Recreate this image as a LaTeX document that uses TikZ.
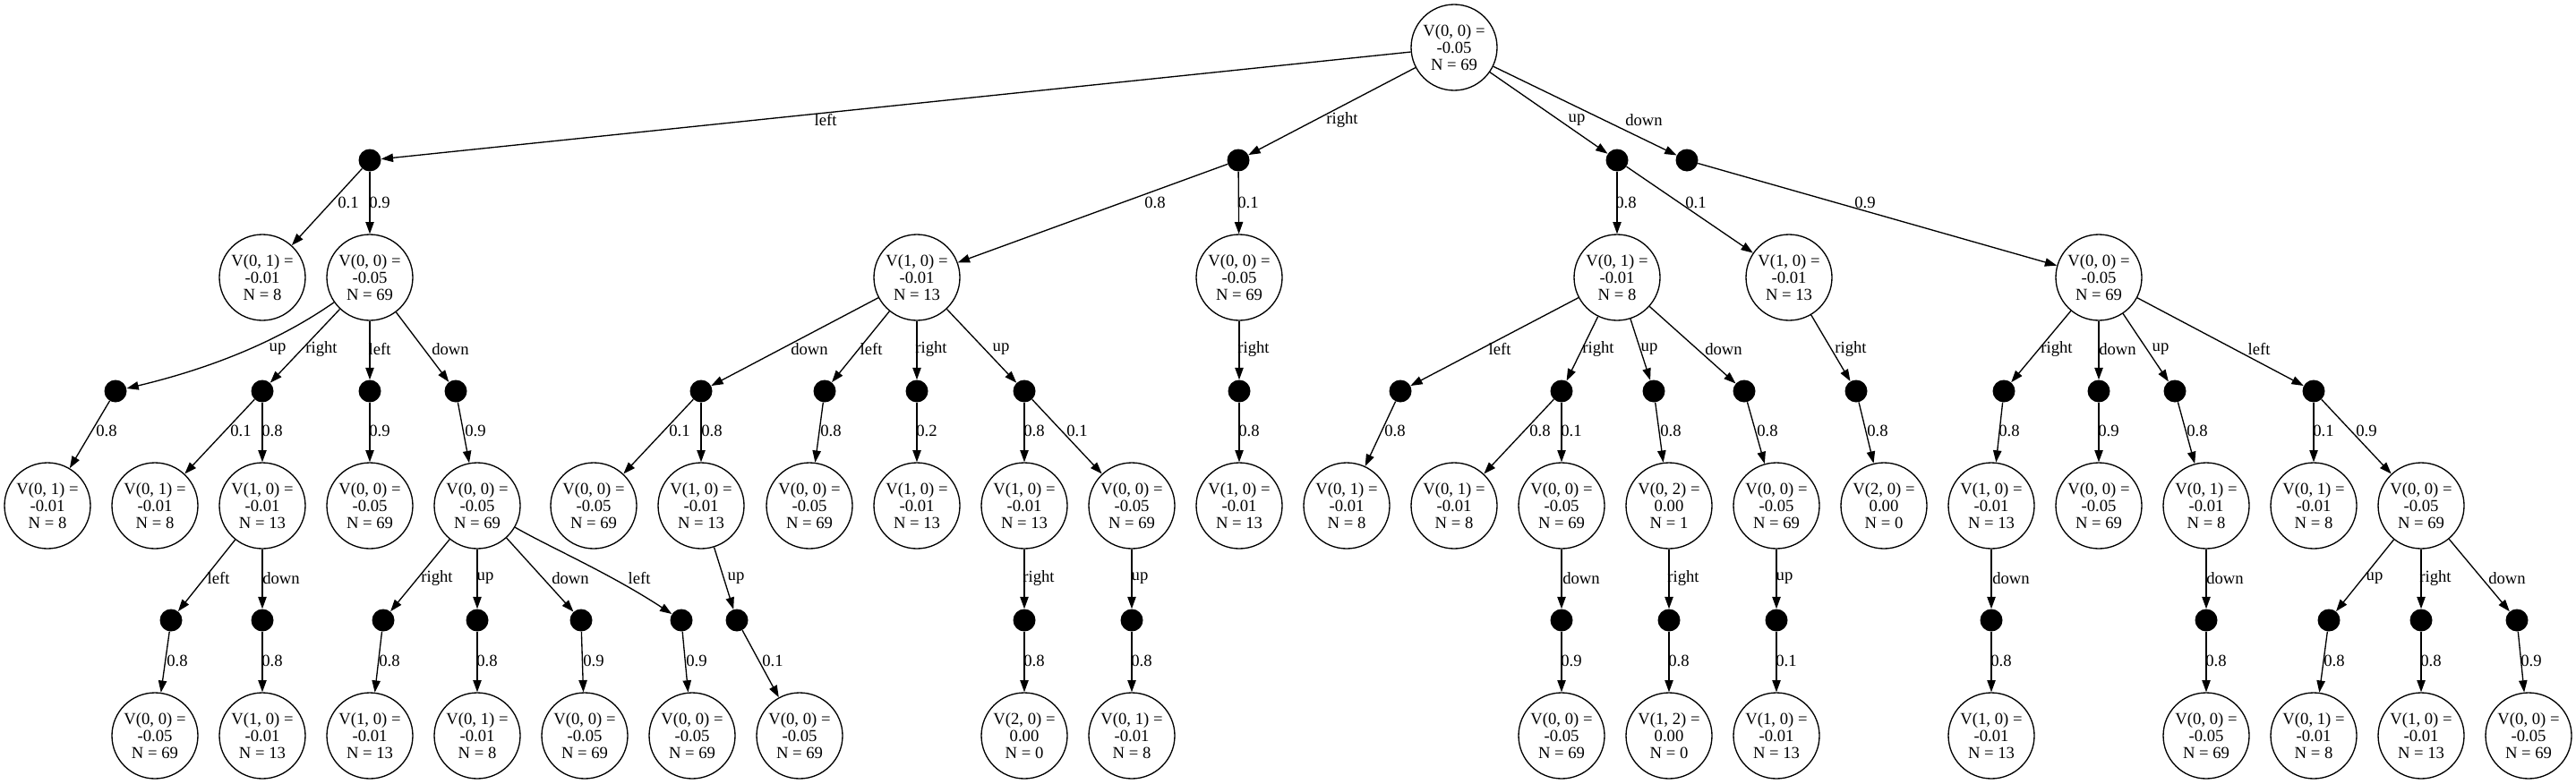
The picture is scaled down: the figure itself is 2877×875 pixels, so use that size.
\documentclass[tikz,border=0pt]{standalone}
\usepackage{fontspec}
\setmainfont{Liberation Serif}
\usetikzlibrary{arrows.meta}
\newcommand{\vtxt}[3]{V(#1) =\\#2\\N = #3}
\newcommand{\edg}[4]{\draw[edge] (#1) -- (#2) node[lbl] at (#3) {#4};}
\begin{document}
\begin{tikzpicture}[x=0.75pt,y=-0.75pt,
  state/.style={circle, draw, line width=1pt, minimum size=72pt, inner sep=0pt, align=center, font=\fontsize{14}{14.5}\selectfont},
  chance/.style={circle, fill=black, minimum size=18.75pt, inner sep=0pt},
  lbl/.style={inner sep=0pt, font=\fontsize{14}{14.5}\selectfont},
  edge/.style={-{Triangle[length=10pt,width=7pt]}, line width=1pt}]
\fill[white] (0,0) rectangle (2877,875);
\useasboundingbox (0,0) rectangle (2877,875);
% root
\node[state] (R) at (1624,53) {\vtxt{0, 0}{-0.05}{69}};
% row 1
\node[chance] (cL) at (413,179) {};
\node[chance] (cR) at (1383,179) {};
\node[chance] (cU) at (1806,179) {};
\node[chance] (cD) at (1884,179) {};
% row 2
\node[state] (A1) at (293,310) {\vtxt{0, 1}{-0.01}{8}};
\node[state] (A2) at (413,310) {\vtxt{0, 0}{-0.05}{69}};
\node[state] (B1) at (1024,310) {\vtxt{1, 0}{-0.01}{13}};
\node[state] (B2) at (1384,310) {\vtxt{0, 0}{-0.05}{69}};
\node[state] (C1) at (1806,310) {\vtxt{0, 1}{-0.01}{8}};
\node[state] (C2) at (1998,310) {\vtxt{1, 0}{-0.01}{13}};
\node[state] (D1) at (2344,310) {\vtxt{0, 0}{-0.05}{69}};
% row 3
\foreach \n/\x in {a2u/129,a2r/293,a2l/413,a2d/509,b1d/783,b1l/921,b1r/1024,b1u/1144,b2r/1384,c1l/1564,c1r/1744,c1u/1847,c1d/1948,c2r/2073,d1r/2238,d1d/2344,d1u/2429,d1l/2584}
  \node[chance] (\n) at (\x,437) {};
% row 4
\node[state] (E1) at (53,565) {\vtxt{0, 1}{-0.01}{8}};
\node[state] (E2) at (173,565) {\vtxt{0, 1}{-0.01}{8}};
\node[state] (E3) at (293,565) {\vtxt{1, 0}{-0.01}{13}};
\node[state] (E4) at (413,565) {\vtxt{0, 0}{-0.05}{69}};
\node[state] (E5) at (533,565) {\vtxt{0, 0}{-0.05}{69}};
\node[state] (E6) at (663,565) {\vtxt{0, 0}{-0.05}{69}};
\node[state] (E7) at (783,565) {\vtxt{1, 0}{-0.01}{13}};
\node[state] (E8) at (904,565) {\vtxt{0, 0}{-0.05}{69}};
\node[state] (E9) at (1024,565) {\vtxt{1, 0}{-0.01}{13}};
\node[state] (E10) at (1144,565) {\vtxt{1, 0}{-0.01}{13}};
\node[state] (E11) at (1264,565) {\vtxt{0, 0}{-0.05}{69}};
\node[state] (E12) at (1384,565) {\vtxt{1, 0}{-0.01}{13}};
\node[state] (E13) at (1504,565) {\vtxt{0, 1}{-0.01}{8}};
\node[state] (E14) at (1624,565) {\vtxt{0, 1}{-0.01}{8}};
\node[state] (E15) at (1744,565) {\vtxt{0, 0}{-0.05}{69}};
\node[state] (E16) at (1864,565) {\vtxt{0, 2}{0.00}{1}};
\node[state] (E17) at (1984,565) {\vtxt{0, 0}{-0.05}{69}};
\node[state] (E18) at (2104,565) {\vtxt{2, 0}{0.00}{0}};
\node[state] (E19) at (2224,565) {\vtxt{1, 0}{-0.01}{13}};
\node[state] (E20) at (2344,565) {\vtxt{0, 0}{-0.05}{69}};
\node[state] (E21) at (2464,565) {\vtxt{0, 1}{-0.01}{8}};
\node[state] (E22) at (2584,565) {\vtxt{0, 1}{-0.01}{8}};
\node[state] (E23) at (2704,565) {\vtxt{0, 0}{-0.05}{69}};
% row 5
\foreach \n/\x in {e3l/191,e3d/293,e5r/428,e5u/533,e5d/649,e5l/761,e7u/823,e10r/1144,e11u/1264,e15d/1744,e16r/1864,e17u/1984,e19d/2224,e21d/2464,e23u/2601,e23r/2704,e23d/2811}
  \node[chance] (\n) at (\x,693) {};
% row 6
\node[state] (F1) at (173,822) {\vtxt{0, 0}{-0.05}{69}};
\node[state] (F2) at (293,822) {\vtxt{1, 0}{-0.01}{13}};
\node[state] (F3) at (413,822) {\vtxt{1, 0}{-0.01}{13}};
\node[state] (F4) at (533,822) {\vtxt{0, 1}{-0.01}{8}};
\node[state] (F5) at (653,822) {\vtxt{0, 0}{-0.05}{69}};
\node[state] (F6) at (773,822) {\vtxt{0, 0}{-0.05}{69}};
\node[state] (F7) at (893,822) {\vtxt{0, 0}{-0.05}{69}};
\node[state] (F8) at (1144,822) {\vtxt{2, 0}{0.00}{0}};
\node[state] (F9) at (1264,822) {\vtxt{0, 1}{-0.01}{8}};
\node[state] (F10) at (1744,822) {\vtxt{0, 0}{-0.05}{69}};
\node[state] (F11) at (1864,822) {\vtxt{1, 2}{0.00}{0}};
\node[state] (F12) at (1984,822) {\vtxt{1, 0}{-0.01}{13}};
\node[state] (F13) at (2224,822) {\vtxt{1, 0}{-0.01}{13}};
\node[state] (F14) at (2464,822) {\vtxt{0, 0}{-0.05}{69}};
\node[state] (F15) at (2584,822) {\vtxt{0, 1}{-0.01}{8}};
\node[state] (F16) at (2704,822) {\vtxt{1, 0}{-0.01}{13}};
\node[state] (F17) at (2824,822) {\vtxt{0, 0}{-0.05}{69}};
% edges row 0-1
\edg{R}{cL}{922,134}{left}
\edg{R}{cR}{1499,134}{right}
\edg{R}{cU}{1761,134}{up}
\edg{R}{cD}{1836,134}{down}
% edges row 1-2
\edg{cL}{A1}{389,226}{0.1}
\edg{cL}{A2}{424,226}{0.9}
\edg{cR}{B1}{1290,226}{0.8}
\edg{cR}{B2}{1394,226}{0.1}
\edg{cU}{C1}{1816,226}{0.8}
\edg{cU}{C2}{1894,226}{0.1}
\edg{cD}{D1}{2083,226}{0.9}
% edges row 2-3
\draw[edge] (A2) .. controls (304,386) and (225,414) .. (a2u) node[lbl] at (310,390) {up};
\edg{A2}{a2r}{359,390}{right}
\edg{A2}{a2l}{424,390}{left}
\edg{A2}{a2d}{503,390}{down}
\edg{B1}{b1d}{904,390}{down}
\edg{B1}{b1l}{973,390}{left}
\edg{B1}{b1r}{1040,390}{right}
\edg{B1}{b1u}{1118,390}{up}
\edg{B2}{b2r}{1400,390}{right}
\edg{C1}{c1l}{1675,390}{left}
\edg{C1}{c1r}{1785,390}{right}
\edg{C1}{c1u}{1842,390}{up}
\edg{C1}{c1d}{1925,390}{down}
\edg{C2}{c2r}{2067,390}{right}
\edg{D1}{d1r}{2297,390}{right}
\edg{D1}{d1d}{2365,390}{down}
\edg{D1}{d1u}{2413,390}{up}
\edg{D1}{d1l}{2523,390}{left}
% edges row 3-4
\edg{a2u}{E1}{119,481}{0.8}
\edg{a2r}{E2}{269,481}{0.1}
\edg{a2r}{E3}{304,481}{0.8}
\edg{a2l}{E4}{424,481}{0.9}
\edg{a2d}{E5}{531,481}{0.9}
\edg{b1d}{E6}{759,481}{0.1}
\edg{b1d}{E7}{795,481}{0.8}
\edg{b1l}{E8}{928,481}{0.8}
\edg{b1r}{E9}{1035,481}{0.2}
\edg{b1u}{E10}{1155,481}{0.8}
\edg{b1u}{E11}{1203,481}{0.1}
\edg{b2r}{E12}{1395,481}{0.8}
\edg{c1l}{E13}{1558,481}{0.8}
\edg{c1r}{E14}{1720,481}{0.8}
\edg{c1r}{E15}{1755,481}{0.1}
\edg{c1u}{E16}{1866,481}{0.8}
\edg{c1d}{E17}{1974,481}{0.8}
\edg{c2r}{E18}{2097,481}{0.8}
\edg{d1r}{E19}{2244,481}{0.8}
\edg{d1d}{E20}{2355,481}{0.9}
\edg{d1u}{E21}{2454,481}{0.8}
\edg{d1l}{E22}{2595,481}{0.1}
\edg{d1l}{E23}{2643,481}{0.9}
% edges row 4-5
\edg{E3}{e3l}{244,646}{left}
\edg{E3}{e3d}{314,646}{down}
\edg{E5}{e5r}{488,646}{right}
\edg{E5}{e5u}{542,646}{up}
\edg{E5}{e5d}{637,646}{down}
\draw[edge] (E5) .. controls (615,612) and (680,640) .. (e5l) node[lbl] at (714,646) {left};
\edg{E7}{e7u}{822,646}{up}
\edg{E10}{e10r}{1160,646}{right}
\edg{E11}{e11u}{1273,646}{up}
\edg{E15}{e15d}{1766,646}{down}
\edg{E16}{e16r}{1880,646}{right}
\edg{E17}{e17u}{1993,646}{up}
\edg{E19}{e19d}{2246,646}{down}
\edg{E21}{e21d}{2485,646}{down}
\edg{E23}{e23u}{2652,646}{up}
\edg{E23}{e23r}{2720,646}{right}
\edg{E23}{e23d}{2800,646}{down}
% edges row 5-6
\edg{e3l}{F1}{198,738}{0.8}
\edg{e3d}{F2}{304,738}{0.8}
\edg{e5r}{F3}{435,738}{0.8}
\edg{e5u}{F4}{544,738}{0.8}
\edg{e5d}{F5}{663,738}{0.9}
\edg{e5l}{F6}{778,738}{0.9}
\edg{e7u}{F7}{863,738}{0.1}
\edg{e10r}{F8}{1155,738}{0.8}
\edg{e11u}{F9}{1275,738}{0.8}
\edg{e15d}{F10}{1755,738}{0.9}
\edg{e16r}{F11}{1875,738}{0.8}
\edg{e17u}{F12}{1995,738}{0.1}
\edg{e19d}{F13}{2235,738}{0.8}
\edg{e21d}{F14}{2475,738}{0.8}
\edg{e23u}{F15}{2607,738}{0.8}
\edg{e23r}{F16}{2715,738}{0.8}
\edg{e23d}{F17}{2827,738}{0.9}
\end{tikzpicture}
\end{document}
